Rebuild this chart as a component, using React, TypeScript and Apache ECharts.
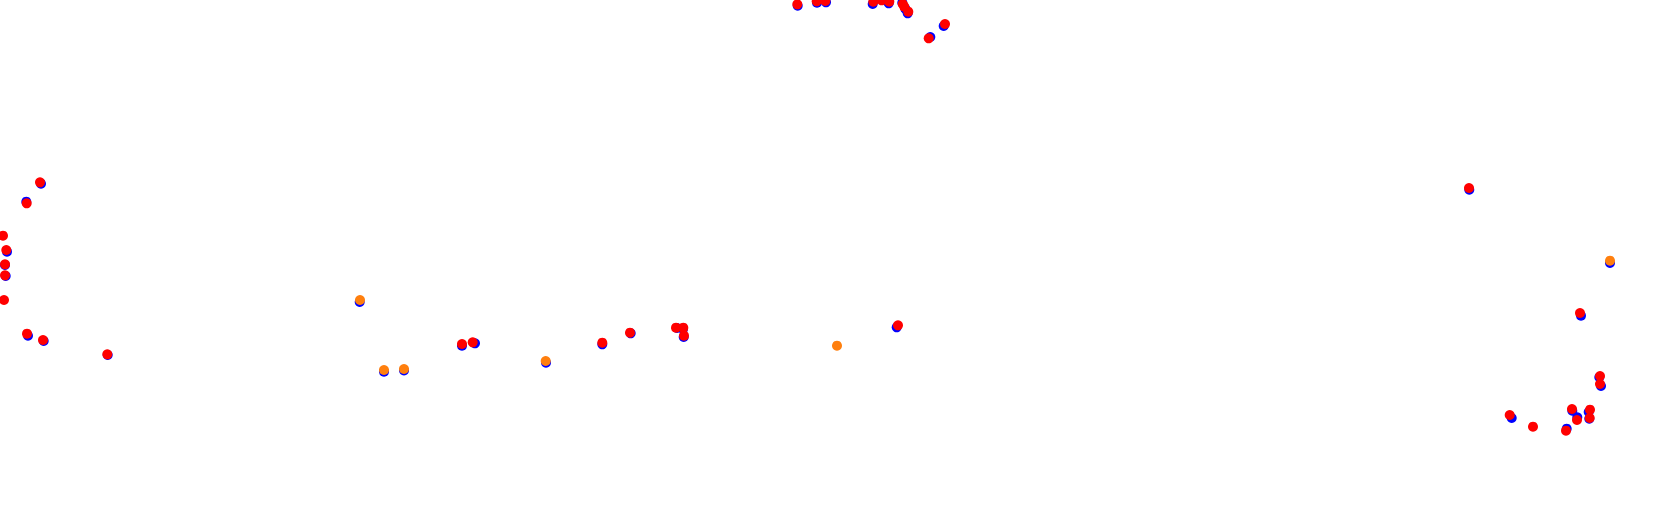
import React, { useEffect, useRef } from "react";
import * as echarts from "echarts";

// Track positions (east, south) in plot units
const rawPoints: number[][] = [
  [41, 183.7], [26.3, 201.7], [7, 251.7], [5, 265], [5.7, 276], [28, 335.7], [43.7, 341], [107.7, 355],
  [359.7, 302], [384, 371.7], [404, 370.5], [462, 345.7], [475, 343.3], [546, 362.7], [602.3, 344.3],
  [630.7, 333.3], [677, 328], [683, 329], [683.7, 337], [896.7, 327.3],
  [797.7, 5.7], [817, 2.7], [826, 2.3], [872.7, 4], [888.7, 3.3], [902.3, 2.7], [905.3, 8.7], [907.7, 13.3],
  [943.7, 26], [930.3, 37],
  [1469.3, 189.7], [1610, 263], [1581, 315.7], [1599.3, 377.3], [1601, 386], [1572.3, 410.7], [1588.7, 412],
  [1589.3, 418.7], [1577.3, 417.3], [1511.7, 418], [1566.7, 428.7],
];

const flaggedPoints: number[][] = [
  [360, 300], [384, 370], [404, 369], [545.7, 361], [837, 345.7], [1610, 260.7],
];

const correctedPoints: number[][] = [
  [40, 182.3], [26.7, 203.3], [3, 235.7], [6.3, 250], [5, 264.3], [5, 275.3], [4, 300], [27, 333.7],
  [43, 340], [107.3, 354.3],
  [462, 344], [472.7, 342.3], [602.3, 342.7], [630, 332.7], [676, 327.7], [683.3, 327.7], [684, 335.7],
  [898, 325.3],
  [797.3, 4.3], [816.7, 1.3], [825.3, 1], [873.3, 1.7], [881.7, 0.3], [889.3, 1.7], [902.7, 4],
  [904.3, 6.7], [908.3, 11.7], [945, 24], [928.7, 38.3],
  [1469, 188], [1580, 313], [1600, 376], [1600, 384], [1572, 409], [1590, 409.7], [1589.7, 418],
  [1577, 420], [1509.7, 415], [1533, 426.7], [1566, 430.7],
];

const W = 1679;
const H = 509;

export default function App() {
  const ref = useRef<HTMLDivElement>(null);
  useEffect(() => {
    document.body.style.margin = "0";
    const chart = echarts.init(ref.current!, null, { renderer: "svg" });
    const mk = (name: string, data: number[][], color: string) => ({
      name,
      type: "scatter",
      data,
      symbol: "circle",
      symbolSize: 10,
      clip: false,
      silent: true,
      itemStyle: { color, opacity: 1 },
    });
    chart.setOption({
      animation: false,
      backgroundColor: "#ffffff",
      grid: { left: 0, right: 0, top: 0, bottom: 0 },
      xAxis: { type: "value", min: 0, max: W, show: false },
      yAxis: { type: "value", min: 0, max: H, inverse: true, show: false },
      series: [
        mk("raw", rawPoints, "#0000ff"),
        mk("flagged", flaggedPoints, "#ff7f0e"),
        mk("corrected", correctedPoints, "#ff0000"),
      ],
    });
    return () => chart.dispose();
  }, []);
  return <div ref={ref} style={{ width: W, height: H }} />;
}
